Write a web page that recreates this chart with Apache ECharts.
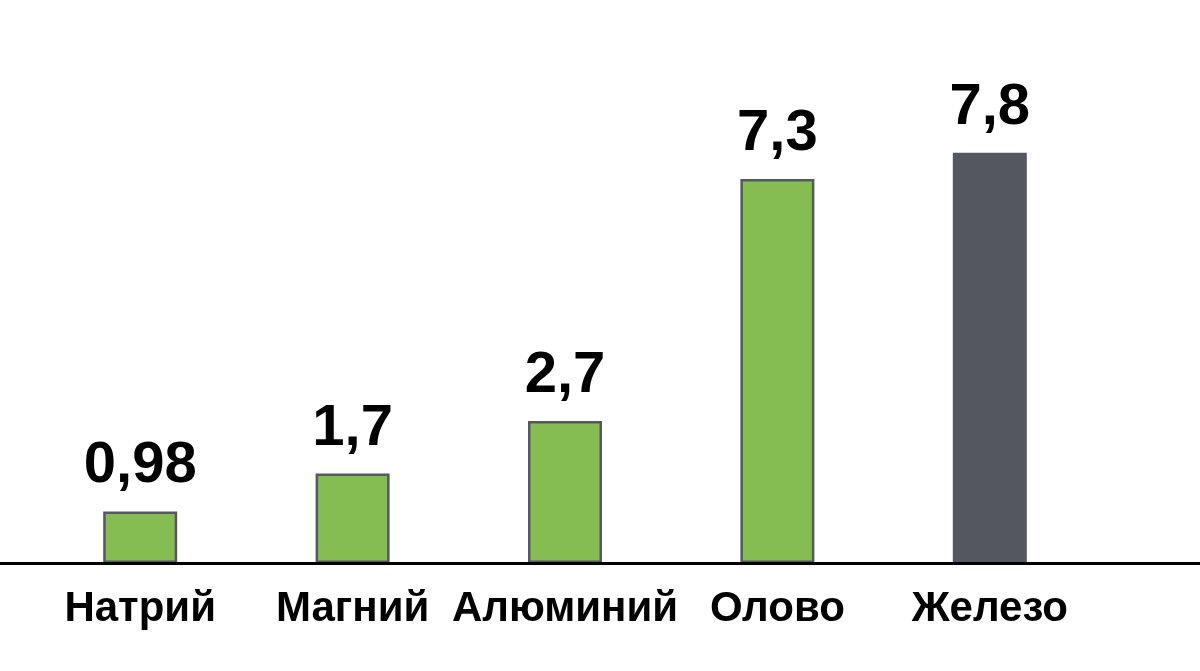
<!DOCTYPE html>
<html><head><meta charset="utf-8">
<script src="https://cdn.jsdelivr.net/npm/echarts@6/dist/echarts.min.js"></script>
<style>html,body{margin:0;padding:0;background:#fff}#c{width:1200px;height:671px}</style>
</head><body><div id="c"></div>
<script>
const categories = ['Натрий', 'Магний', 'Алюминий', 'Олово', 'Железо'];
const values = [0.98, 1.7, 2.7, 7.3, 7.8];
const valueLabels = ['0,98', '1,7', '2,7', '7,3', '7,8'];
const highlightIndex = 4;

const chart = echarts.init(document.getElementById('c'));
const font = '"Liberation Sans", Arial, Helvetica, sans-serif';
chart.setOption({
  animation: false,
  grid: { left: 34, right: 104, top: 37, bottom: 108 },
  xAxis: {
    type: 'category', data: categories,
    axisLine: { show: false }, axisTick: { show: false },
    axisLabel: { color: '#000', fontFamily: font, fontWeight: 'bold', fontSize: 42, margin: 25, interval: 0 }
  },
  yAxis: { type: 'value', min: 0, max: 10, show: false, splitLine: { show: false } },
  graphic: [{
    type: 'line', z: 100,
    shape: { x1: 0, y1: 563.5, x2: 1200, y2: 563.5 },
    style: { stroke: '#000', lineWidth: 3 }
  }],
  series: [{
    type: 'bar', barWidth: 74,
    data: values.map((v, i) => ({
      value: v,
      itemStyle: i === highlightIndex
        ? { color: '#54575f', borderWidth: 0 }
        : { color: '#86bd53', borderColor: '#55585e', borderWidth: 2.5 }
    })),
    label: {
      show: true, position: 'top', distance: 16,
      color: '#000', fontFamily: font, fontWeight: 'bold', fontSize: 58,
      formatter: p => valueLabels[p.dataIndex]
    }
  }]
});
</script></body></html>
